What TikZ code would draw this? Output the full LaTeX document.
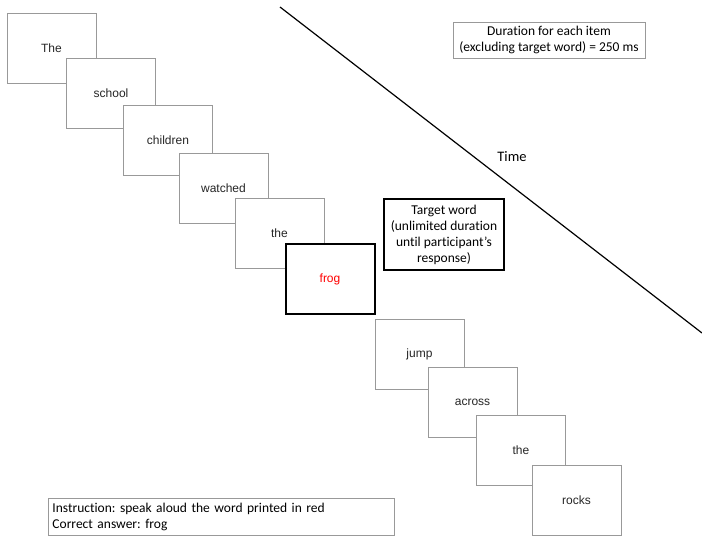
\documentclass[tikz,border=0pt]{standalone}
\usepackage{fontspec}
\setmainfont{Carlito}[Ligatures=NoCommon]
\newfontfamily\wordfont{Liberation Sans}
\frenchspacing
\begin{document}
\begin{tikzpicture}[x=1pt,y=-1pt,
  frame/.style={draw=black!40, fill=white, line width=0.9pt,
    minimum width=89pt, minimum height=70pt, inner sep=0pt,
    font=\wordfont\fontsize{12}{14}\selectfont, text=black!85},
  target/.style={frame, draw=black, line width=2pt, text=red},
  note/.style={draw=black!40, line width=0.9pt,
    font=\fontsize{13.5}{16}\selectfont, align=center, inner sep=0pt},
  timeline/.style={line width=1.2pt, black}]
\useasboundingbox (0,0) rectangle (702,538);

% time axis
\coordinate (t0) at (280,7);
\coordinate (t1) at (702,333);
\draw[timeline] (t0) -- (t1);
\node[font=\fontsize{14.5}{17}\selectfont] (time) at (512,157) {Time};

% word frames, each drawn over the previous one
\node[frame] (w1) at (51.5,48) {The};
\node[frame] (w2) at (111,93.5) {school};
\node[frame] (w3) at (168,140) {children};
\node[frame] (w4) at (223.5,188.5) {watched};
\node[frame] (w5) at (279.5,233.5) {the};
\node[target] (w6) at (330,279) {frog};
\node[frame] (w7) at (419.5,354) {jump};
\node[frame] (w8) at (472.5,402) {across};
\node[frame] (w9) at (521,450.5) {the};
\node[frame] (w10) at (576.5,500) {rocks};

% notes
\node[note, draw=black, line width=2pt, minimum width=120pt, minimum height=71pt]
  (tw) at (444,234.5) {Target word\\(unlimited duration\\until participant’s\\response)};
\node[note, minimum width=192pt, minimum height=36pt]
  (dur) at (549,40) {Duration for each item\\(excluding target word) = 250 ms};
\node[note, align=left, anchor=north west, text width=338pt, inner xsep=4pt,
  minimum height=37pt]
  (instr) at (48,498) {Instruction: speak aloud the word printed in red\\Correct answer: frog};
\end{tikzpicture}
\end{document}
